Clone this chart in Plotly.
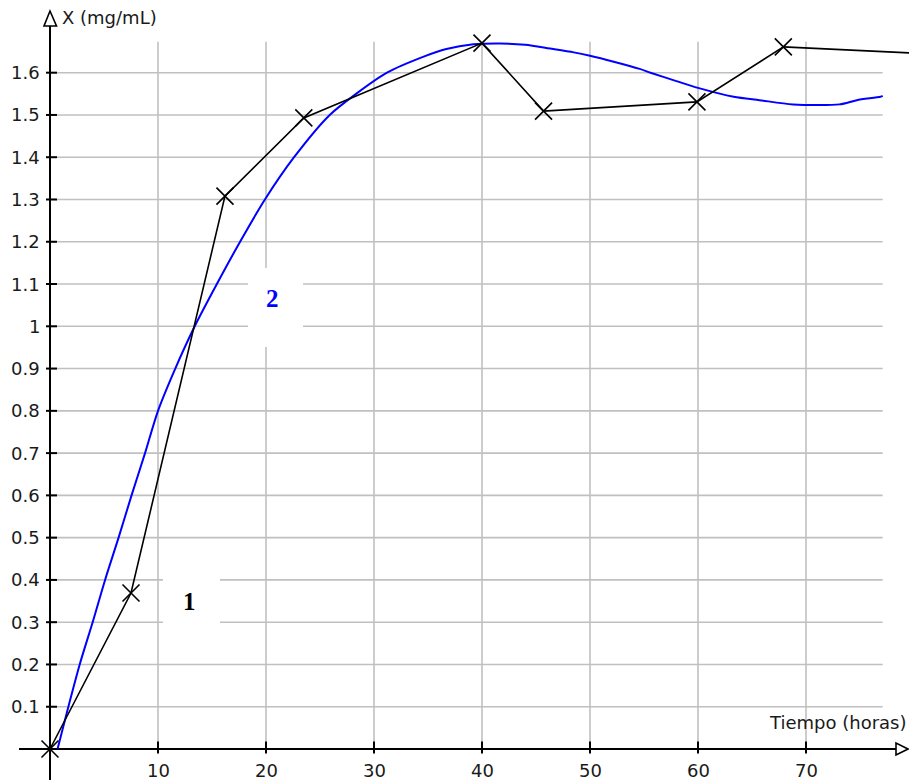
import plotly.graph_objects as go

# ---- data ----
# series 1 (experimental, crosses)
t1 = [0, 7.5, 16.2, 23.5, 40.0, 45.7, 59.9, 67.9]
x1 = [0.0, 0.369, 1.308, 1.493, 1.670, 1.509, 1.531, 1.661]
# continuation of series 1 beyond the visible range
t1_tail = [67.9, 82.0]
x1_tail = [1.661, 1.644]

# series 2 (model curve, blue)
t2 = [0.7, 1.7, 2.75, 3.95, 5.1, 6.35, 7.55, 8.8, 10.0, 11.6, 13.4, 15.45, 17.6,
      19.9, 22.6, 25.9, 28.4, 31.2, 34.6, 36.7, 39.2, 41.7, 44.0, 46.3, 48.5, 50.0,
      52.2, 54.6, 55.6, 58.0, 60.0, 63.3, 65.7, 68.8, 73.1, 74.7, 76.9, 77.1]
x2 = [0.0, 0.1, 0.2, 0.3, 0.4, 0.5, 0.6, 0.7, 0.8, 0.9, 1.0, 1.1, 1.2,
      1.3, 1.4, 1.5, 1.551, 1.6, 1.638, 1.656, 1.667, 1.669, 1.666, 1.657, 1.648, 1.640,
      1.626, 1.609, 1.600, 1.580, 1.564, 1.543, 1.535, 1.525, 1.525, 1.535, 1.543, 1.545]

x_ticks = [10, 20, 30, 40, 50, 60, 70]
y_ticks = [0.1, 0.2, 0.3, 0.4, 0.5, 0.6, 0.7, 0.8, 0.9, 1.0, 1.1, 1.2, 1.3, 1.4, 1.5, 1.6]
y_tick_labels = ["0.1", "0.2", "0.3", "0.4", "0.5", "0.6", "0.7", "0.8", "0.9", "1",
                 "1.1", "1.2", "1.3", "1.4", "1.5", "1.6"]

x_axis_title = "Tiempo (horas)"
y_axis_title = "X (mg/mL)"

# ---- layout geometry ----
W, H = 909, 780
PX0, PXU = 50.0, 10.8       # pixel of t=0, pixels per hour
PY0, PYU = 749.0, 422.7     # pixel of X=0, pixels per mg/mL
X_RANGE = [(0 - PX0) / PXU, (W - PX0) / PXU]
Y_RANGE = [(PY0 - H) / PYU, (PY0 - 0) / PYU]
GRID_XMAX = 77.1
GRID_YMAX = 1.673


def dx(px):
    return (px - PX0) / PXU


def dy(py):
    return (PY0 - py) / PYU


fig = go.Figure()

shapes = []
grid_style = dict(color="#c0c0c0", width=1.6)
for t in x_ticks:
    shapes.append(dict(type="line", x0=t, x1=t, y0=0, y1=GRID_YMAX, line=grid_style, layer="below"))
for v in y_ticks:
    shapes.append(dict(type="line", x0=0, x1=GRID_XMAX, y0=v, y1=v, line=grid_style, layer="below"))

# white boxes behind the curve labels
shapes.append(dict(type="rect", x0=dx(248), x1=dx(303), y0=dy(347), y1=dy(268),
                   fillcolor="white", line=dict(width=0), layer="below"))
shapes.append(dict(type="rect", x0=dx(163), x1=dx(220), y0=dy(640), y1=dy(561),
                   fillcolor="white", line=dict(width=0), layer="below"))

axis_style = dict(color="black", width=2)
# x axis line
shapes.append(dict(type="line", x0=dx(19), x1=dx(897), y0=0, y1=0, line=axis_style, layer="below"))
# y axis line
shapes.append(dict(type="line", x0=0, x1=0, y0=Y_RANGE[0], y1=dy(26), line=axis_style, layer="below"))
# ticks
for t in x_ticks:
    shapes.append(dict(type="line", x0=t, x1=t, y0=dy(753.5), y1=dy(741.5), line=axis_style, layer="below"))
for v in y_ticks:
    shapes.append(dict(type="line", x0=dx(46), x1=dx(57), y0=v, y1=v, line=axis_style, layer="below"))

# open arrow heads
shapes.append(dict(type="path",
                   path=f"M {dx(50)},{dy(11)} L {dx(44)},{dy(26)} L {dx(56.5)},{dy(26)} Z",
                   fillcolor="white", line=dict(color="black", width=1.6), layer="above"))
shapes.append(dict(type="path",
                   path=f"M {dx(908)},{dy(749)} L {dx(896)},{dy(743)} L {dx(896)},{dy(755)} Z",
                   fillcolor="white", line=dict(color="black", width=1.6), layer="above"))

# traces
fig.add_trace(go.Scatter(x=t2, y=x2, mode="lines",
                         line=dict(color="#0000ff", width=2, shape="spline", smoothing=0.8),
                         hoverinfo="skip", showlegend=False))
fig.add_trace(go.Scatter(x=t1_tail, y=x1_tail, mode="lines", line=dict(color="black", width=1.6),
                         hoverinfo="skip", showlegend=False))
fig.add_trace(go.Scatter(x=t1, y=x1, mode="lines+markers", line=dict(color="black", width=1.6),
                         marker=dict(symbol="x-thin", size=17, line=dict(color="black", width=1.6)),
                         hoverinfo="skip", showlegend=False))

annotations = []
tick_font = dict(family="DejaVu Sans, Arial, sans-serif", size=18, color="#1a1a1a")
for t in x_ticks:
    annotations.append(dict(x=t, y=dy(770), text=str(t), showarrow=False, font=tick_font,
                            xanchor="center", yanchor="middle"))
for v, lab in zip(y_ticks, y_tick_labels):
    annotations.append(dict(x=dx(42), y=v, text=lab, showarrow=False, font=tick_font,
                            xanchor="right", yanchor="middle"))
annotations.append(dict(x=dx(60), y=dy(17), text=y_axis_title, showarrow=False, font=tick_font,
                        xanchor="left", yanchor="middle"))
annotations.append(dict(x=dx(909), y=dy(722), text=x_axis_title, showarrow=False, font=tick_font,
                        xanchor="right", yanchor="middle"))
label_font = dict(family="Liberation Serif, Times New Roman, serif", size=25)
annotations.append(dict(x=dx(272), y=dy(298), text="<b>2</b>", showarrow=False,
                        font=dict(**label_font, color="#0000ff"), xanchor="center", yanchor="middle"))
annotations.append(dict(x=dx(189), y=dy(601), text="<b>1</b>", showarrow=False,
                        font=dict(**label_font, color="black"), xanchor="center", yanchor="middle"))

fig.update_layout(
    width=W, height=H,
    margin=dict(l=0, r=0, t=0, b=0),
    paper_bgcolor="white", plot_bgcolor="white",
    xaxis=dict(range=X_RANGE, visible=False, fixedrange=True),
    yaxis=dict(range=Y_RANGE, visible=False, fixedrange=True),
    shapes=shapes, annotations=annotations,
)

fig.write_html("out.html", config={"displayModeBar": False},
               post_script="document.body.style.margin='0';document.body.style.padding='0';")
